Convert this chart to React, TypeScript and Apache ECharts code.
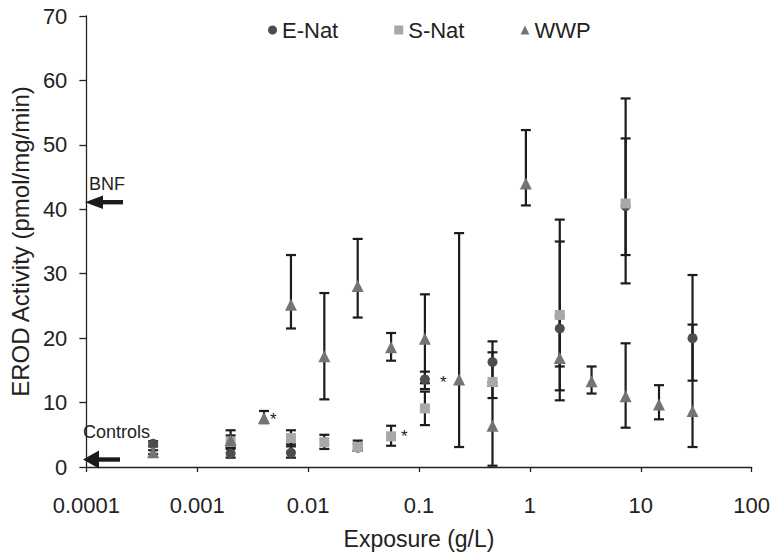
import React, { useEffect, useRef } from "react";
import * as echarts from "echarts";

const seriesNames = ["E-Nat", "S-Nat", "WWP"];
const xTickLabels = ["0.0001", "0.001", "0.01", "0.1", "1", "10", "100"];

const eNatX = [0.0004, 0.002, 0.007, 0.028, 0.113, 0.46, 1.86, 7.3, 29.3];
const eNatY = [3.6, 2.1, 2.2, 3.0, 13.6, 16.3, 21.5, 40.5, 20.0];
const eNatLow = [3.2, 1.45, 1.45, 2.5, 12.1, 13.1, 15.6, 28.5, 13.4];
const eNatHigh = [4.0, 2.8, 3.5, 3.6, 14.8, 19.5, 35.0, 51.0, 29.8];
const eNatStar = [false, false, false, false, true, false, false, false, false];

const sNatX = [0.002, 0.007, 0.014, 0.028, 0.056, 0.113, 0.46, 1.86, 7.3];
const sNatY = [3.9, 4.5, 3.85, 3.1, 4.75, 9.1, 13.2, 23.6, 40.9];
const sNatLow = [3.0, 3.2, 2.8, 2.5, 3.3, 6.5, 10.7, 11.9, 32.9];
const sNatHigh = [4.9, 5.7, 5.0, 4.1, 6.4, 11.7, 17.8, 38.4, 57.2];
const sNatStar = [false, false, false, false, true, false, false, false, false];

const wwpX = [0.0004, 0.002, 0.004, 0.007, 0.014, 0.028, 0.056, 0.113, 0.23, 0.46, 0.92, 1.86, 3.6, 7.3, 14.6, 29.3];
const wwpY = [2.3, 4.2, 7.6, 25.2, 17.2, 28.1, 18.6, 19.9, 13.6, 6.4, 44.0, 16.9, 13.3, 11.0, 9.7, 8.7];
const wwpLow = [2.0, 3.2, 6.8, 21.5, 10.5, 23.2, 16.5, 13.0, 3.1, 0.2, 40.6, 10.35, 11.4, 6.1, 7.4, 3.1];
const wwpHigh = [2.6, 5.7, 8.7, 32.9, 27.0, 35.4, 20.8, 26.8, 36.3, 12.6, 52.3, 23.4, 15.6, 19.2, 12.7, 22.1];
const wwpStar = [false, false, true, false, false, false, false, false, false, false, false, false, false, false, false, false];

const FONT = "'Liberation Sans', Arial, sans-serif";
const TEXT = "#222";

function buildPoints(xs: number[], ys: number[], stars: boolean[], starOffset: number[]) {
  return xs.map((x, i) =>
    stars[i]
      ? {
          value: [x, ys[i]],
          label: {
            show: true,
            formatter: "*",
            position: "right",
            distance: 2,
            offset: starOffset,
            color: TEXT,
            fontSize: 17,
            fontFamily: FONT,
          },
        }
      : { value: [x, ys[i]] }
  );
}

function buildErrors(xs: number[], lo: number[], hi: number[]) {
  return xs.map((x, i) => [x, lo[i], hi[i]]);
}

const errorRender = (params: any, api: any) => {
  const x = api.value(0);
  const pLo = api.coord([x, api.value(1)]);
  const pHi = api.coord([x, api.value(2)]);
  const hw = 5;
  const style = { stroke: "#1c1c1c", lineWidth: 2.2 };
  return {
    type: "group",
    children: [
      { type: "line", shape: { x1: pLo[0], y1: pLo[1], x2: pHi[0], y2: pHi[1] }, style },
      { type: "line", shape: { x1: pLo[0] - hw, y1: pLo[1], x2: pLo[0] + hw, y2: pLo[1] }, style },
      { type: "line", shape: { x1: pHi[0] - hw, y1: pHi[1], x2: pHi[0] + hw, y2: pHi[1] }, style },
    ],
  };
};

export default function App() {
  const ref = useRef<HTMLDivElement>(null);
  useEffect(() => {
    document.body.style.margin = "0";
    if (!ref.current) return;
    const chart = echarts.init(ref.current, null, { renderer: "svg" });
    const colors = ["#4d4d4d", "#a8a8a8", "#747474"];
    chart.setOption({
      animation: false,
      textStyle: { fontFamily: FONT },
      grid: { left: 82, right: 21, top: 16, bottom: 80.5, containLabel: false },
      legend: {
        data: seriesNames,
        left: 263,
        top: 14,
        itemWidth: 9,
        itemHeight: 9,
        itemGap: 56,
        textStyle: { fontSize: 22, color: TEXT, fontFamily: FONT },
      },
      xAxis: {
        type: "log",
        logBase: 10,
        min: 0.0001,
        max: 100,
        name: "Exposure (g/L)",
        nameLocation: "middle",
        nameGap: 60,
        nameTextStyle: { fontSize: 23, color: TEXT, fontFamily: FONT },
        axisLine: { lineStyle: { color: "#222", width: 1.3 } },
        axisTick: { show: true, length: 5, lineStyle: { color: "#222", width: 1.3 } },
        minorTick: { show: false },
        splitLine: { show: false },
        axisLabel: {
          fontSize: 22,
          color: TEXT,
          margin: 27,
          formatter: (v: number) => xTickLabels[Math.round(Math.log10(v)) + 4] ?? "",
        },
      },
      yAxis: {
        type: "value",
        min: 0,
        max: 70,
        interval: 10,
        name: "EROD Activity (pmol/mg/min)",
        nameLocation: "middle",
        nameGap: 48,
        nameTextStyle: { fontSize: 24, color: TEXT, fontFamily: FONT },
        axisLine: { show: true, lineStyle: { color: "#222", width: 1.3 } },
        axisTick: { show: true, length: 7, lineStyle: { color: "#222", width: 1.3 } },
        splitLine: { show: false },
        axisLabel: { fontSize: 22, color: TEXT, margin: 19 },
      },
      series: [
        {
          type: "custom",
          renderItem: errorRender,
          data: buildErrors(eNatX, eNatLow, eNatHigh),
          encode: { x: 0, y: [1, 2] },
          z: 1,
          silent: true,
        },
        {
          type: "custom",
          renderItem: errorRender,
          data: buildErrors(sNatX, sNatLow, sNatHigh),
          encode: { x: 0, y: [1, 2] },
          z: 1,
          silent: true,
        },
        {
          type: "custom",
          renderItem: errorRender,
          data: buildErrors(wwpX, wwpLow, wwpHigh),
          encode: { x: 0, y: [1, 2] },
          z: 1,
          silent: true,
        },
        {
          name: seriesNames[0],
          type: "scatter",
          symbol: "circle",
          symbolSize: 10,
          itemStyle: { color: colors[0], opacity: 1 },
          data: buildPoints(eNatX, eNatY, eNatStar, [8, 3]),
          z: 3,
        },
        {
          name: seriesNames[1],
          type: "scatter",
          symbol: "rect",
          symbolSize: 10,
          itemStyle: { color: colors[1], opacity: 1 },
          data: buildPoints(sNatX, sNatY, sNatStar, [3, 0]),
          z: 4,
        },
        {
          name: seriesNames[2],
          type: "scatter",
          symbol: "triangle",
          symbolSize: 12,
          itemStyle: { color: colors[2], opacity: 1 },
          data: buildPoints(wwpX, wwpY, wwpStar, [-2, 1]),
          z: 5,
        },
      ],
      graphic: [
        { type: "text", left: 89, top: 175, style: { text: "BNF", fontSize: 18, fill: TEXT, fontFamily: FONT } },
        { type: "rect", shape: { x: 100, y: 200, width: 23, height: 4.4 }, style: { fill: "#1a1a1a" } },
        { type: "polygon", shape: { points: [[85, 202.2], [103, 195.5], [103, 209]] }, style: { fill: "#1a1a1a" } },
        { type: "text", left: 83, top: 423, style: { text: "Controls", fontSize: 18, fill: TEXT, fontFamily: FONT } },
        { type: "rect", shape: { x: 96, y: 457.3, width: 24, height: 4.4 }, style: { fill: "#1a1a1a" } },
        { type: "polygon", shape: { points: [[83, 459.5], [99, 450.5], [99, 468.5]] }, style: { fill: "#1a1a1a" } },
      ],
    });
    return () => chart.dispose();
  }, []);
  return <div ref={ref} style={{ width: 773, height: 555 }} />;
}
